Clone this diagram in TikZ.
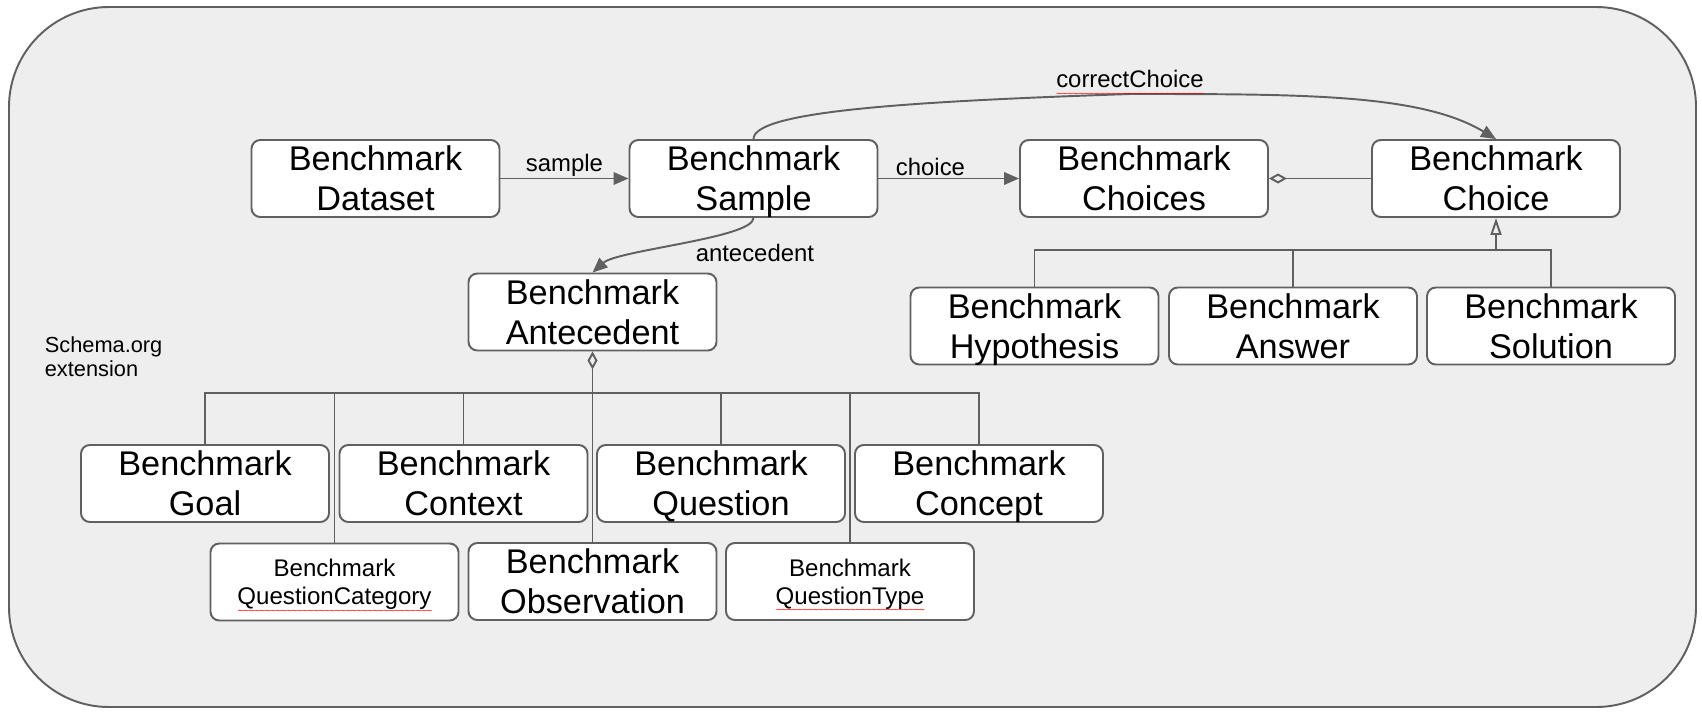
\documentclass[tikz,border=0pt]{standalone}
\usepackage{fontspec}
\setmainfont{Liberation Sans}
\usetikzlibrary{arrows.meta, positioning, calc}
\definecolor{linegray}{HTML}{606060}
\definecolor{panelgray}{HTML}{EEEEEE}
\newsavebox\wavebox
\newcommand\spellwave[1]{\sbox\wavebox{#1}%
  \rlap{\raisebox{-5.2pt}[0pt][0pt]{\color{red}\hbox to\wd\wavebox{%
    \fontsize{6}{6}\selectfont\xleaders\hbox{\char126\kern-0.5pt}\hfill}}}%
  \usebox\wavebox}
\tikzset{
  every node/.style={font=\fontsize{13.6}{16}\selectfont},
  cls/.style     = {rectangle, rounded corners=5pt, draw=linegray, fill=white, line width=1.1pt,
                    inner sep=2pt, align=center, minimum width=4.96cm, minimum height=1.54cm,
                    text depth=0pt, font=\fontsize{19.5}{22.8}\selectfont},
  clsmall/.style = {cls, font=\fontsize{13.7}{16.2}\selectfont},
  link/.style    = {draw=linegray, line width=1.1pt},
  arrow/.style   = {link, -{Triangle[length=3mm,width=2.5mm]}},
  agg/.style     = {link, -{Diamond[open,length=3.6mm,width=2mm]}},
  inh/.style     = {link, -{Triangle[open,length=3.4mm,width=2.2mm]}},
  lbl/.style     = {inner sep=0.8pt},
  panel/.style   = {draw=linegray, fill=panelgray, line width=1.1pt, rounded corners=2cm},
}

\begin{document}
\begin{tikzpicture}
  \useasboundingbox (0,0) rectangle (34.04,-14.28);
  \draw[panel] (0.18,-0.14) rectangle (33.92,-14.14);

  % ---- top row ----
  \node[cls] (dataset) at (7.51,-3.57)  {Benchmark\\Dataset};
  \node[cls] (sample)  at (15.07,-3.57) {Benchmark\\Sample};
  \node[cls] (choices) at (22.88,-3.57) {Benchmark\\Choices};
  \node[cls] (choice)  at (29.92,-3.57) {Benchmark\\Choice};

  % ---- antecedent + choice kinds ----
  \node[cls] (antecedent) at (11.85,-6.24) {Benchmark\\Antecedent};
  \node[cls] (hypothesis) at (20.69,-6.52) {Benchmark\\Hypothesis};
  \node[cls] (answer)     at (25.86,-6.52) {Benchmark\\Answer};
  \node[cls] (solution)   at (31.02,-6.52) {Benchmark\\Solution};

  \node[anchor=north west, inner sep=0pt, align=left, font=\fontsize{12.4}{13.8}\selectfont]
    (schema) at (0.89,-6.72) {Schema.org\\extension};

  % ---- antecedent kinds ----
  \node[cls] (goal)     at (4.10,-9.67)  {Benchmark\\Goal};
  \node[cls] (context)  at (9.27,-9.67)  {Benchmark\\Context};
  \node[cls] (question) at (14.42,-9.67) {Benchmark\\Question};
  \node[cls] (concept)  at (19.58,-9.67) {Benchmark\\Concept};

  \node[clsmall] (qcat)        at (6.69,-11.64)  {Benchmark\\\spellwave{QuestionCategory}};
  \node[cls]     (observation) at (11.85,-11.63) {Benchmark\\Observation};
  \node[clsmall] (qtype)       at (17.00,-11.63) {Benchmark\\\spellwave{QuestionType}};

  % ---- bus points ----
  \coordinate (abus) at (11.85,-7.86);
  \coordinate (cbus) at (29.92,-5.0);
  \coordinate (cc)   at (22.6,-1.88);

  % ---- associations ----
  \draw[arrow] (dataset) -- (sample) node[midway, above, lbl] {sample};
  \draw[arrow] (sample) -- (choices) node[pos=0.37, above, lbl] {choice};
  \draw[agg] (choice) -- (choices);
  \draw[arrow] (sample.north) .. controls +(0,0.55) and +(-4.5,-0.15) .. (cc)
    node[above=2pt, lbl] {\spellwave{correctChoice}}
    .. controls +(3.5,0) and +(-1.5,0.9) .. (choice.north);
  \draw[arrow] (sample.south) .. controls +(0,-0.4) and +(0.5,0.45) .. (antecedent.north)
    node[pos=0.45, anchor=north west, lbl] {antecedent};

  % ---- choice hierarchy ----
  \draw[link] (hypothesis.north) |- (cbus) -| (solution.north);
  \draw[link] (answer.north) -- (answer.north |- cbus);
  \draw[inh] (cbus) -- (choice.south);

  % ---- antecedent hierarchy ----
  \draw[link] (goal.north) |- (abus) -| (concept.north);
  \foreach \n in {qcat, context, question, qtype}
    \draw[link] (\n.north) -- (\n.north |- abus);
  \draw[agg] (observation.north) -- (antecedent.south);
\end{tikzpicture}
\end{document}
